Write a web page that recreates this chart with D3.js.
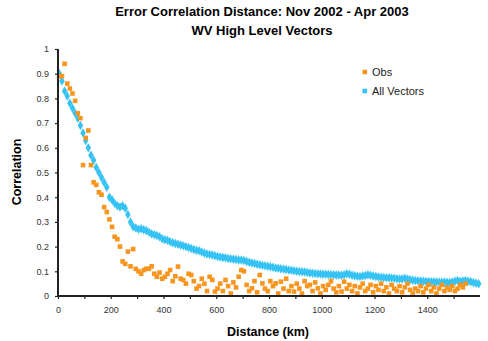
<!DOCTYPE html>
<html>
<head>
<meta charset="utf-8">
<script src="https://cdnjs.cloudflare.com/ajax/libs/d3/7.8.5/d3.min.js"></script>
<style>
  body { margin: 0; background: #fff; }
  svg { font-family: "Liberation Sans", Arial, sans-serif; }
</style>
</head>
<body>
<div id="container"></div>
<script>
// distance bins (km, bin centres, 10 km wide)
var binKm = d3.range(5, 1600, 10);

// All Vectors correlation per bin
var allVectors = [
  0.90, 0.87, 0.83, 0.81, 0.78, 0.76, 0.74, 0.72, 0.69, 0.66,
  0.63, 0.60, 0.57, 0.55, 0.52, 0.50, 0.48, 0.46, 0.44, 0.40,
  0.39, 0.375, 0.365, 0.36, 0.365, 0.355, 0.33, 0.30, 0.28, 0.275,
  0.27, 0.272, 0.268, 0.265, 0.258, 0.252, 0.248, 0.245, 0.24, 0.232,
  0.228, 0.226, 0.22, 0.216, 0.213, 0.21, 0.206, 0.203, 0.199, 0.196,
  0.192, 0.188, 0.185, 0.183, 0.178, 0.174, 0.17, 0.168, 0.166, 0.163,
  0.16, 0.158, 0.156, 0.155, 0.152, 0.151, 0.149, 0.148, 0.146, 0.146,
  0.144, 0.14, 0.137, 0.134, 0.132, 0.129, 0.127, 0.124, 0.122, 0.12,
  0.118, 0.116, 0.113, 0.112, 0.11, 0.109, 0.107, 0.105, 0.104, 0.102,
  0.1, 0.099, 0.098, 0.097, 0.095, 0.093, 0.092, 0.091, 0.09, 0.089,
  0.088, 0.088, 0.087, 0.086, 0.086, 0.085, 0.085, 0.084, 0.086, 0.09,
  0.088, 0.084, 0.082, 0.08, 0.079, 0.081, 0.083, 0.086, 0.084, 0.081,
  0.079, 0.077, 0.076, 0.075, 0.074, 0.074, 0.073, 0.072, 0.07, 0.069,
  0.07, 0.072, 0.069, 0.066, 0.064, 0.063, 0.062, 0.061, 0.06, 0.059,
  0.059, 0.058, 0.058, 0.057, 0.057, 0.056, 0.057, 0.056, 0.055, 0.057,
  0.06, 0.063, 0.06, 0.061, 0.063, 0.06, 0.058, 0.055, 0.052, 0.05
];

// Obs correlation per bin
var obs = [
  0.89, 0.89, 0.94, 0.86, 0.84, 0.82, 0.79, 0.74, 0.72, 0.53,
  0.64, 0.67, 0.53, 0.46, 0.45, 0.42, 0.41, 0.36, 0.34, 0.31,
  0.28, 0.24, 0.23, 0.20, 0.14, 0.13, 0.18, 0.12, 0.19, 0.11,
  0.10, 0.09, 0.105, 0.11, 0.11, 0.12, 0.09, 0.078, 0.095, 0.07,
  0.078, 0.09, 0.105, 0.06, 0.08, 0.119, 0.07, 0.065, 0.05, 0.09,
  0.085, 0.06, 0.03, 0.04, 0.07, 0.05, 0.02, 0.078, 0.065, 0.018,
  0.03, 0.05, 0.02, 0.065, 0.04, 0.01, 0.055, 0.035, 0.078, 0.105,
  0.1, 0.045, 0.02, 0.031, 0.06, 0.015, 0.085, 0.051, 0.03, 0.02,
  0.06, 0.04, 0.051, 0.01, 0.058, 0.03, 0.07, 0.02, 0.04, 0.018,
  0.05, 0.03, 0.01, 0.06, 0.04, 0.045, 0.02, 0.055, 0.031, 0.01,
  0.04, 0.025, 0.045, 0.06, 0.03, 0.015, 0.04, 0.018, 0.058, 0.03,
  0.045, 0.02, 0.04, 0.01, 0.035, 0.05, 0.02, 0.03, 0.045, 0.015,
  0.04, 0.025, 0.05, 0.02, 0.035, 0.01, 0.045, 0.03, 0.02, 0.04,
  0.015, 0.035, 0.05, 0.025, 0.01, 0.03, 0.02, 0.04, 0.015, 0.03,
  0.045, 0.02, 0.035, 0.01, 0.03, 0.045, 0.02, 0.035, 0.025, 0.04,
  0.02, 0.03, 0.045, 0.035, 0.05
];

var xTicks = d3.range(0, 1600, 100);
var xLabels = [0, 200, 400, 600, 800, 1000, 1200, 1400];
var yTicks = [0, 0.1, 0.2, 0.3, 0.4, 0.5, 0.6, 0.7, 0.8, 0.9, 1];

var seriesNames = ["Obs", "All Vectors"];
var colors = ["#f7951e", "#36c3f3"];

var W = 488, H = 341;
var svg = d3.select("#container").append("svg")
    .attr("width", W)
    .attr("height", H);

var x = d3.scaleLinear().domain([0, 1600]).range([58, 480]);
var y = d3.scaleLinear().domain([0, 1]).range([296, 49]);

// titles
svg.append("text")
  .attr("x", 262).attr("y", 16)
  .attr("text-anchor", "middle")
  .style("font-size", "13px").style("font-weight", "bold")
  .text("Error Correlation Distance: Nov 2002 - Apr 2003");
svg.append("text")
  .attr("x", 262).attr("y", 34.5)
  .attr("text-anchor", "middle")
  .style("font-size", "13px").style("font-weight", "bold")
  .text("WV High Level Vectors");

// points: All Vectors then Obs
var blueData = allVectors.map(function(v, i) { return [binKm[i], v]; });
var orangeData = obs.map(function(v, i) { return [binKm[i], v]; });

svg.append("g").selectAll("path")
  .data(blueData)
  .enter().append("path")
  .attr("d", d3.symbol().type(d3.symbolDiamond).size(26))
  .attr("transform", function(d) { return "translate(" + x(d[0]) + "," + y(d[1]) + ")"; })
  .attr("fill", colors[1]);

svg.append("g").selectAll("rect")
  .data(orangeData)
  .enter().append("rect")
  .attr("x", function(d) { return x(d[0]) - 2.3; })
  .attr("y", function(d) { return y(d[1]) - 2.3; })
  .attr("width", 4.6).attr("height", 4.6)
  .attr("fill", colors[0]);

// axes
var yAxis = d3.axisLeft(y).tickValues(yTicks).tickSize(3).tickPadding(6)
  .tickFormat(function(d) { return d === 0 || d === 1 ? d3.format("d")(d) : d3.format(".1f")(d); });
var gy = svg.append("g").attr("transform", "translate(58,0)").call(yAxis);

var xAxis = d3.axisBottom(x).tickValues(xTicks).tickSize(3).tickPadding(8)
  .tickFormat(function(d) { return xLabels.indexOf(d) >= 0 ? d : ""; });
var gx = svg.append("g").attr("transform", "translate(0,296)").call(xAxis);

[gx, gy].forEach(function(g) {
  g.select(".domain").attr("stroke", "#222").attr("stroke-width", 2);
  g.selectAll(".tick line").attr("stroke", "#222").attr("stroke-width", 1.2);
  g.selectAll(".tick text").attr("fill", "#333").style("font-size", "9px");
});
gy.select(".domain").attr("d", "M58,296V49").attr("transform", "translate(-58,0)");
gx.select(".domain").attr("d", "M58,0H480");

// axis titles
svg.append("text")
  .attr("x", 268).attr("y", 336)
  .attr("text-anchor", "middle")
  .style("font-size", "12.5px").style("font-weight", "bold")
  .text("Distance (km)");
svg.append("text")
  .attr("transform", "translate(21,172) rotate(-90)")
  .attr("text-anchor", "middle")
  .style("font-size", "12.5px").style("font-weight", "bold")
  .text("Correlation");

// legend
var legend = svg.append("g");
seriesNames.forEach(function(name, i) {
  var ly = 72 + i * 19;
  legend.append("rect")
    .attr("x", 362.5).attr("y", ly - 2.3)
    .attr("width", 4.6).attr("height", 4.6)
    .attr("fill", colors[i]);
  legend.append("text")
    .attr("x", 372).attr("y", ly + 4)
    .style("font-size", "11px")
    .attr("fill", "#222")
    .text(name);
});
</script>
</body>
</html>
